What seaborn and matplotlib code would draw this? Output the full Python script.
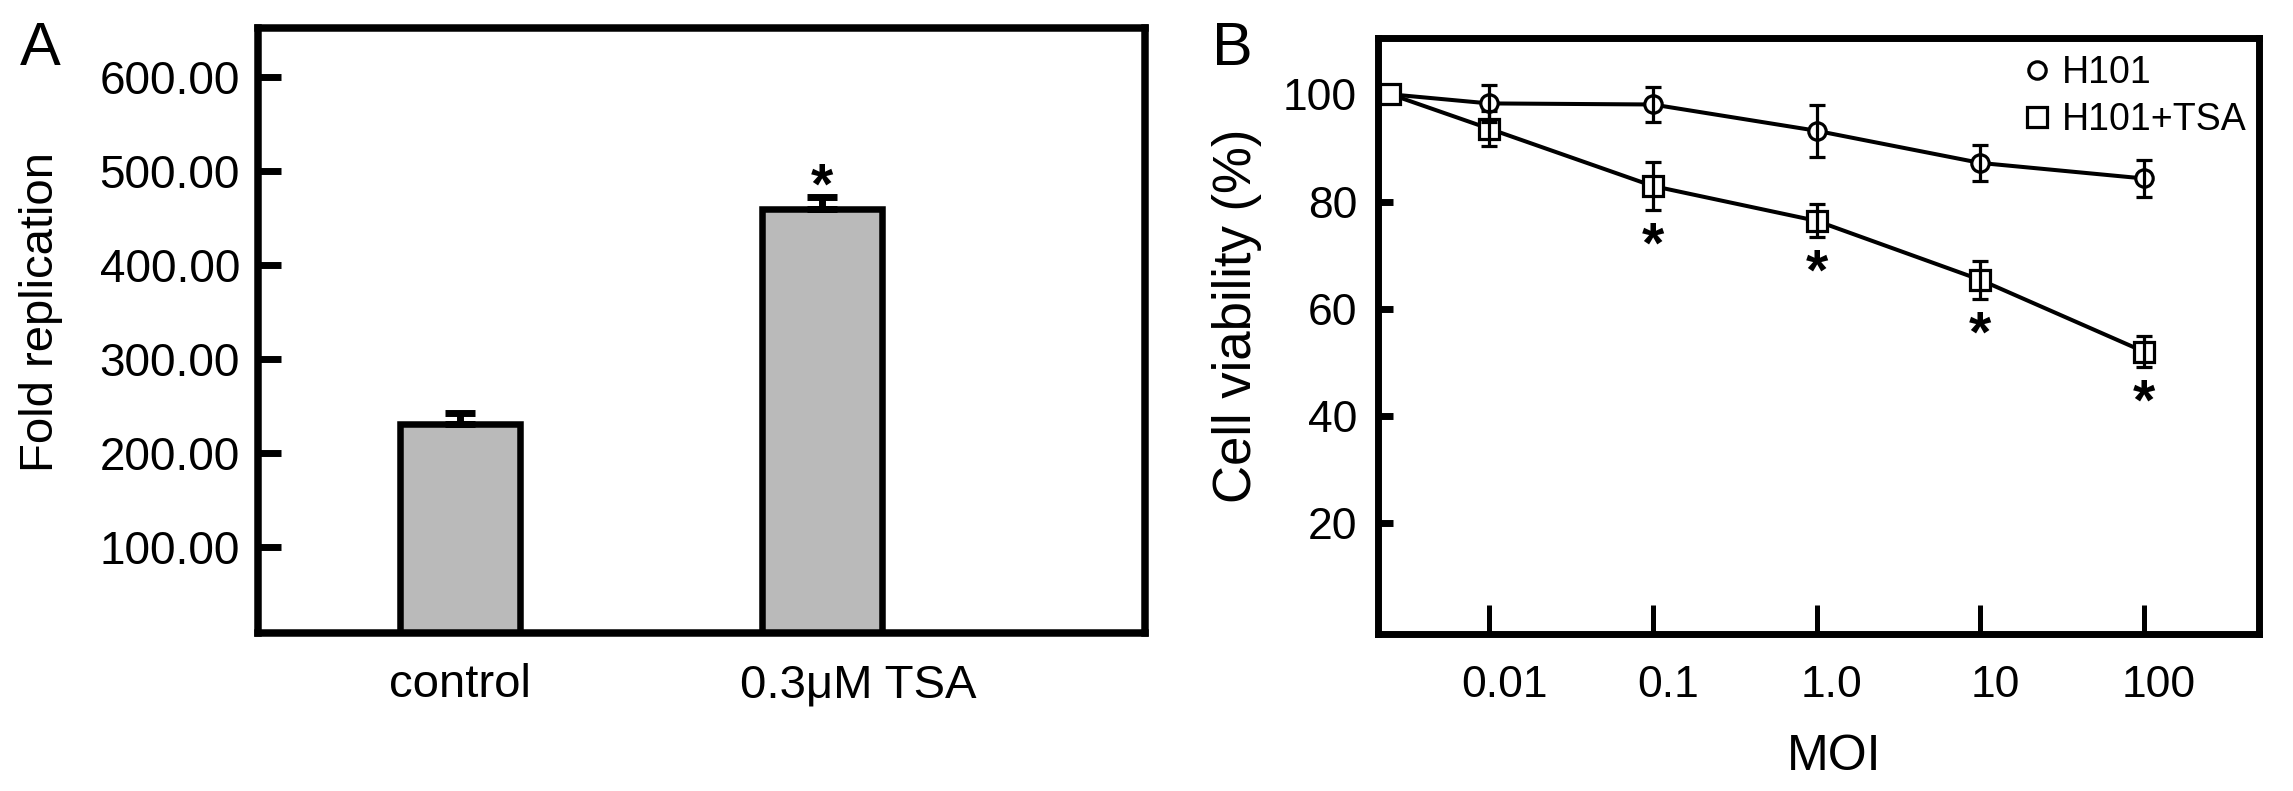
import numpy as np
import pandas as pd
import matplotlib
matplotlib.use("Agg")
import matplotlib.pyplot as plt
import matplotlib.transforms as mtransforms
from matplotlib.lines import Line2D
from matplotlib.ticker import NullLocator, FixedLocator, FixedFormatter
import seaborn as sns

# ---------------- data: panel A ----------------
a_categories = ["control", "0.3\u03bcM TSA"]
a_values = [231, 459]
a_errors = [11.5, 13]
a_significant = [False, True]
a_yticks = [100, 200, 300, 400, 500, 600]

# ---------------- data: panel B ----------------
b_moi = [0.0025, 0.01, 0.1, 1, 10, 100]
b_xtick_values = [0.01, 0.1, 1, 10, 100]
b_xtick_labels = ["0.01", "0.1", "1.0", "10", "100"]
h101_mean = [100, 98.3, 98.1, 93.2, 87.2, 84.3]
h101_err = [0, 3.5, 3.3, 4.8, 3.3, 3.4]
tsa_mean = [100, 93.6, 82.9, 76.4, 65.4, 52.0]
tsa_err = [0, 3.2, 4.5, 3.1, 3.6, 2.9]
tsa_significant = [False, False, True, True, True, True]
b_yticks = [20, 40, 60, 80, 100]
b_groups = ["H101", "H101+TSA"]

sns.set_theme(style="ticks")
plt.rcParams["font.family"] = ["Liberation Sans", "DejaVu Sans"]
for key in ["text.color", "axes.labelcolor", "xtick.color", "ytick.color",
            "axes.edgecolor"]:
    plt.rcParams[key] = "black"

W, H = 2293, 791
fig = plt.figure(figsize=(W / 100, H / 100), dpi=100)
fig.patch.set_facecolor("white")

def px_offset(dx):
    return mtransforms.ScaledTranslation(dx / 100, 0, fig.dpi_scale_trans)

# ================= Panel A =================
axA = fig.add_axes([258 / W, 1 - 633 / H, 887 / W, 605 / H])
dfA = pd.DataFrame({"group": a_categories, "value": a_values})
sns.barplot(data=dfA, x="group", y="value", ax=axA, color="#bababa",
            saturation=1, edgecolor="black", linewidth=4.7, width=0.331,
            errorbar=None)
xa = np.arange(len(a_categories))
axA.errorbar(xa, a_values, yerr=[np.zeros(len(a_values)), a_errors],
             fmt="none", ecolor="black", elinewidth=5, capsize=10.8,
             capthick=5, zorder=3)
for x, v, e, s in zip(xa, a_values, a_errors, a_significant):
    if s:
        axA.annotate("*", xy=(x, v + e), xytext=(0, 5.8),
                     textcoords="offset points", ha="center", va="center",
                     fontsize=41, fontweight="bold", color="black")
axA.set_xlim(-0.557, 1.89)
axA.set_ylim(8, 652)
axA.set_yticks(a_yticks)
axA.set_yticklabels([f"{v:.2f}" for v in a_yticks])
axA.tick_params(axis="y", direction="in", length=16.6, width=5,
                labelsize=33, pad=13, left=True, color="black",
                labelcolor="black")
axA.tick_params(axis="x", length=0, labelsize=34, pad=21.6, bottom=True,
                labelcolor="black")
for sp in axA.spines.values():
    sp.set_visible(True)
    sp.set_linewidth(5.4)
    sp.set_color("black")
axA.set_xlabel("")
axA.set_ylabel("Fold replication", fontsize=34, color="black")
axA.yaxis.set_label_coords(-0.2446, 0.5306)
axA.yaxis.label.set_va("center")
axA.yaxis.label.set_ha("center")
axA.yaxis.label.set_rotation_mode("default")
labsA = axA.get_xticklabels()
labsA[1].set_transform(labsA[1].get_transform() + px_offset(36))

# ================= Panel B =================
axB = fig.add_axes([1378 / W, 1 - 634 / H, 881 / W, 596 / H])
axB.set_xscale("log")
styles = {
    "H101": dict(marker="o", markersize=12.5),
    "H101+TSA": dict(marker="s", markersize=14),
}
series = {"H101": (h101_mean, h101_err), "H101+TSA": (tsa_mean, tsa_err)}
for g in b_groups:
    mean, err = series[g]
    d = pd.DataFrame({"MOI": b_moi, "viability": mean})
    sns.lineplot(data=d, x="MOI", y="viability", ax=axB, color="black",
                 linewidth=2.9, markerfacecolor="white",
                 markeredgecolor="black", markeredgewidth=2.3,
                 errorbar=None, legend=False, sort=False, zorder=3,
                 **styles[g])
    m = np.array(err) > 0
    axB.errorbar(np.array(b_moi)[m], np.array(mean)[m], yerr=np.array(err)[m],
                 fmt="none", ecolor="black", elinewidth=2.3, capsize=5.8,
                 capthick=2.3, zorder=4)

for x, v, e, s in zip(b_moi, tsa_mean, tsa_err, tsa_significant):
    if s:
        axB.annotate("*", xy=(x, v - e), xytext=(0, -26.6),
                     textcoords="offset points", ha="center", va="center",
                     fontsize=41, fontweight="bold", color="black")

axB.set_xlim(10 ** -2.678, 10 ** 2.702)
axB.set_ylim(-0.65, 110.5)
axB.xaxis.set_major_locator(FixedLocator(b_xtick_values))
axB.xaxis.set_major_formatter(FixedFormatter(b_xtick_labels))
axB.xaxis.set_minor_locator(NullLocator())
axB.set_yticks(b_yticks)
axB.set_yticklabels([str(v) for v in b_yticks])
axB.tick_params(axis="y", direction="in", length=11, width=5, labelsize=32,
                pad=15, left=True, color="black", labelcolor="black")
axB.tick_params(axis="x", direction="in", length=21, width=3.6, labelsize=32,
                pad=22, bottom=True, color="black", labelcolor="black")
for sp in axB.spines.values():
    sp.set_visible(True)
    sp.set_linewidth(5.0)
    sp.set_color("black")
for lab in axB.get_xticklabels():
    lab.set_transform(lab.get_transform() + px_offset(15))

axB.set_xlabel("MOI", fontsize=36, color="black")
axB.xaxis.set_label_coords(0.5176, -0.2064)
axB.xaxis.label.set_va("center")
axB.set_ylabel("Cell viability (%)", fontsize=38, color="black")
axB.yaxis.set_label_coords(-0.160, 0.5344)
axB.yaxis.label.set_va("center")
axB.yaxis.label.set_ha("center")
axB.yaxis.label.set_rotation_mode("default")

handles = [Line2D([], [], linestyle="None", markerfacecolor="white",
                  markeredgecolor="black", markeredgewidth=2.3,
                  **styles[g]) for g in b_groups]
axB.legend(handles, b_groups, loc="upper left",
           bbox_to_anchor=((2022 - 1378) / 881, (634 - 55) / 596),
           frameon=False, fontsize=27, handlelength=0.8, handletextpad=0.27,
           labelspacing=0.3, borderpad=0, borderaxespad=0,
           labelcolor="black")

# panel letters
fig.text(20 / W, 1 - 65 / H, "A", fontsize=44, ha="left", va="baseline",
         color="black")
fig.text(1212 / W, 1 - 65 / H, "B", fontsize=44, ha="left", va="baseline",
         color="black")

fig.savefig("out.png", dpi=100, facecolor="white")
